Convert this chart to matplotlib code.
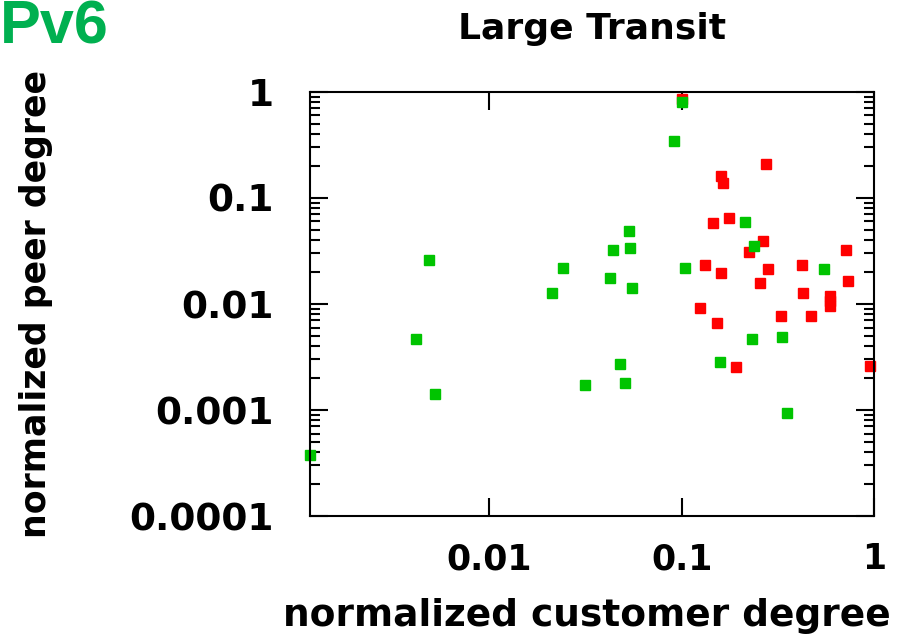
import numpy as np
import matplotlib.pyplot as plt
from matplotlib.ticker import LogLocator, FixedLocator, NullLocator

# red series (customer degree, peer degree)
red_x = [0.100, 0.275, 0.160, 0.164, 0.146, 0.176, 0.266, 0.223, 0.280, 0.133,
         0.160, 0.255, 0.422, 0.718, 0.736, 0.430, 0.592, 0.592, 0.592, 0.125,
         0.152, 0.328, 0.468, 0.191, 0.950]
red_y = [0.86, 0.209, 0.161, 0.138, 0.0577, 0.0648, 0.0395, 0.0311, 0.0214, 0.0232,
         0.0197, 0.0159, 0.0232, 0.0323, 0.0165, 0.0126, 0.0120, 0.0107, 0.0095, 0.00923,
         0.00657, 0.00766, 0.00766, 0.00254, 0.00262]

# green series
green_x = [0.00117, 0.00415, 0.00521, 0.00487, 0.0241, 0.0211, 0.0316, 0.100, 0.0912, 0.214,
           0.238, 0.551, 0.0530, 0.0440, 0.0541, 0.104, 0.0422, 0.0551, 0.233, 0.334,
           0.0481, 0.0505, 0.159, 0.352]
green_y = [0.000376, 0.00464, 0.00143, 0.0258, 0.0220, 0.0126, 0.00172, 0.80, 0.343, 0.0598,
           0.0352, 0.0214, 0.0492, 0.0323, 0.0338, 0.0220, 0.0177, 0.0141, 0.00464, 0.00485,
           0.00273, 0.00180, 0.00286, 0.000944]

x_ticks = [0.01, 0.1, 1]
x_tick_labels = ['0.01', '0.1', '1']
y_ticks = [0.0001, 0.001, 0.01, 0.1, 1]
y_tick_labels = ['0.0001', '0.001', '0.01', '0.1', '1']

fig = plt.figure(figsize=(9.09, 6.34), dpi=100)
ax = fig.add_axes([0.341, 0.186, 0.6205, 0.669])

ax.plot(red_x, red_y, linestyle='none', marker='s', markersize=7,
        color='#ff0000', clip_on=False, zorder=2)
ax.plot(green_x, green_y, linestyle='none', marker='s', markersize=7,
        color='#00c400', clip_on=False, zorder=3)

ax.set_xscale('log')
ax.set_yscale('log')
ax.set_xlim(green_x[0], 1)
ax.set_ylim(0.0001, 1)

ax.xaxis.set_major_locator(FixedLocator(x_ticks))
ax.xaxis.set_minor_locator(NullLocator())
ax.set_xticklabels(x_tick_labels)
ax.yaxis.set_major_locator(FixedLocator(y_ticks))
ax.yaxis.set_minor_locator(LogLocator(base=10, subs=np.arange(2, 10)))
ax.set_yticklabels(y_tick_labels)

ax.tick_params(which='both', direction='in', top=True, right=True, width=1.5, color='black')
ax.tick_params(which='major', length=13)
ax.tick_params(which='minor', length=7)
ax.tick_params(axis='y', which='major', pad=26)
ax.tick_params(axis='x', which='major', pad=19)

for lbl in ax.get_xticklabels():
    lbl.set_fontsize(25)
    lbl.set_fontweight('bold')
for lbl in ax.get_yticklabels():
    lbl.set_fontsize(27)
    lbl.set_fontweight('bold')

for sp in ax.spines.values():
    sp.set_linewidth(1.5)
    sp.set_zorder(4)

ax.set_xlabel('normalized customer degree', fontsize=27, fontweight='bold', va='top')
ax.xaxis.set_label_coords(0.491, -0.193)
ax.set_ylabel('normalized peer degree', fontsize=25, fontweight='bold')
ax.yaxis.set_label_coords(-0.456, 0.5)
ax.set_title('Large Transit', fontsize=26, fontweight='bold', pad=38)

fig.text(0.0, 1.0, 'Pv6', fontsize=44, fontweight='bold', color='#00b050',
         family='Liberation Sans', ha='left', va='top')

fig.savefig('out.png', dpi=100)
